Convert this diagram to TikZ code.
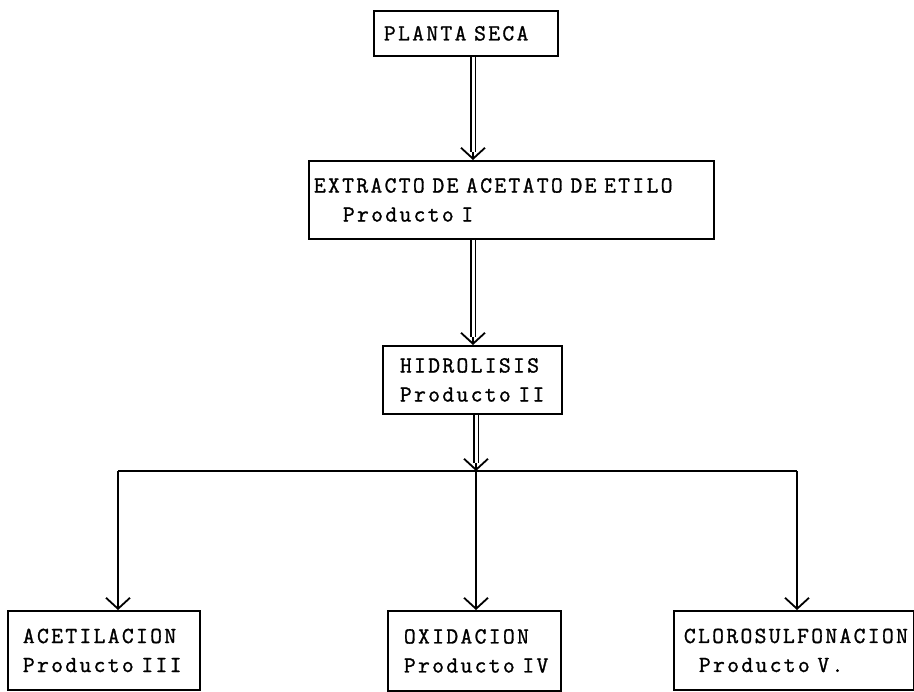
\documentclass[tikz,border=0pt]{standalone}
\usepackage{fontspec}
\usetikzlibrary{arrows.meta}
\newfontfamily\typefont{Latin Modern Mono}[LetterSpace=10,WordSpace=1.8,FakeBold=1.2]

\begin{document}
\begin{tikzpicture}[x=0.5pt,y=-0.5pt,
  every node/.style={font=\typefont\fontsize{11.5}{14.5}\selectfont},
  block/.style={rectangle,draw,line width=0.9pt,anchor=north west,
    align=left,inner ysep=0pt},
  arrow/.style={-{Straight Barb[length=5.5pt,width=12pt]},line width=0.9pt},
  flow/.style={arrow,postaction={draw,-,double,double distance=1.5pt,shorten >=4pt}}
]
\useasboundingbox (0,0) rectangle (914,691);
\node[block,inner xsep=5pt,text width=82pt,minimum height=22.5pt] (plant) at (373,10) {PLANTA SECA};
\node[block,inner xsep=2.5pt,text width=197.5pt,minimum height=39pt] (ext) at (308,160)
  {EXTRACTO DE ACETATO DE ETILO\\\hspace*{14.5pt}Producto~I};
\node[block,inner xsep=8.5pt,text width=72.5pt,minimum height=34pt] (hidro) at (382,345)
  {HIDROLISIS\\Producto~II};
\node[block,inner xsep=7.5pt,text width=81pt,minimum height=39.5pt] (acet) at (7,610)
  {ACETILACION\\Producto~III};
\node[block,inner xsep=8pt,text width=70.5pt,minimum height=40pt] (oxi) at (387,610)
  {OXIDACION\\Producto~IV};
\node[block,inner xsep=5pt,text width=110pt,minimum height=39.5pt] (cloro) at (673,610)
  {CLOROSULFONACION\\\hspace*{7.5pt}Producto~V.};
\coordinate (top) at (473,0);
\coordinate (mid) at (476,471);
\coordinate (busL) at (118,471);
\coordinate (busR) at (797,471);
\draw[flow] (plant.south -| top) -- (ext.north -| top);
\draw[flow] (ext.south -| top) -- (hidro.north -| top);
\draw[flow] (hidro.south -| mid) -- (mid);
\draw[line width=0.9pt] (busL) -- (busR);
\draw[arrow] (busL) -- (busL |- acet.north);
\draw[arrow] (mid) -- (mid |- oxi.north);
\draw[arrow] (busR) -- (busR |- cloro.north);
\end{tikzpicture}
\end{document}
